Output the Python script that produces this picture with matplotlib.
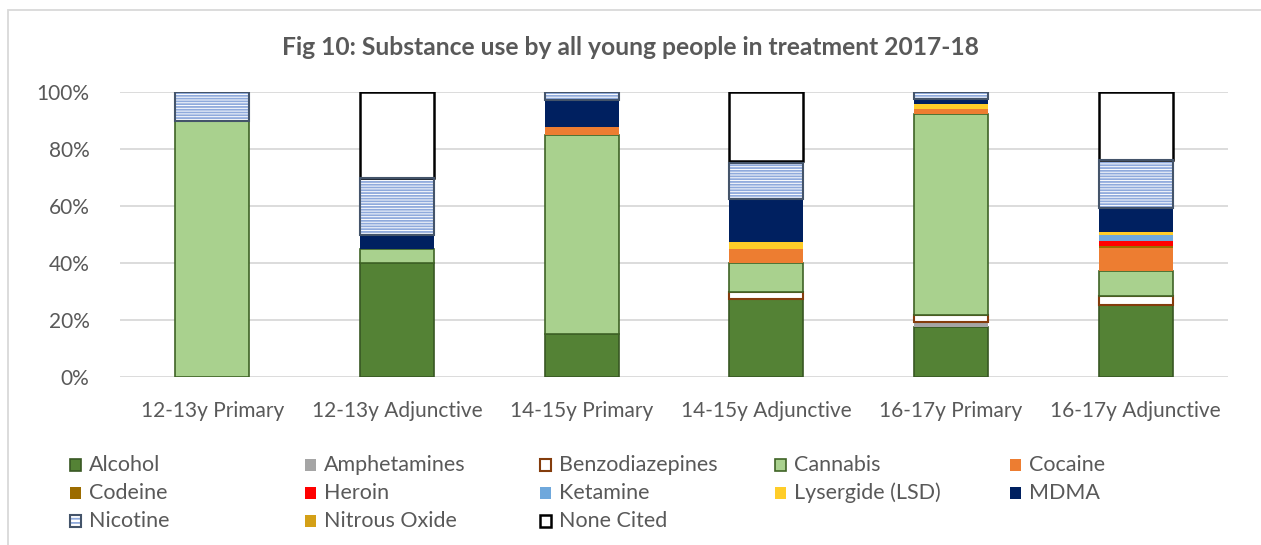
import matplotlib
matplotlib.use("Agg")
import matplotlib.pyplot as plt
from matplotlib.patches import Rectangle
import numpy as np

plt.rcParams['font.family'] = ['Lato', 'DejaVu Sans']
plt.rcParams['hatch.linewidth'] = 1.3

# ================== DATA ==================

groups = ["12-13y Primary", "12-13y Adjunctive", "14-15y Primary",
          "14-15y Adjunctive", "16-17y Primary", "16-17y Adjunctive"]

substances = ["Alcohol", "Amphetamines", "Benzodiazepines", "Cannabis", "Cocaine",
              "Codeine", "Heroin", "Ketamine", "Lysergide (LSD)", "MDMA",
              "Nicotine", "Nitrous Oxide", "None Cited"]

# percentages per group, one list per substance
alcohol = [0, 40, 15, 27.4, 17.7, 25.3]
amphetamines = [0, 0, 0, 0, 1.7, 0]
benzodiazepines = [0, 0, 0, 2.3, 2.2, 3.1]
cannabis = [90, 5, 70, 10.2, 70.6, 8.8]
cocaine = [0, 0, 2.6, 5, 1.7, 7.9]
codeine = [0, 0, 0, 0, 0, 1.0]
heroin = [0, 0, 0, 0, 0, 1.7]
ketamine = [0, 0, 0, 0, 0, 2.0]
lsd = [0, 0, 0, 2.3, 1.9, 1.1]
mdma = [0, 5, 9.7, 15.1, 1.7, 8.5]
nicotine = [10, 20, 2.7, 12.7, 2.5, 16.7]
nitrous_oxide = [0, 0, 0, 0.8, 0, 0]
none_cited = [0, 30, 0, 24.2, 0, 23.9]

series = [alcohol, amphetamines, benzodiazepines, cannabis, cocaine, codeine,
          heroin, ketamine, lsd, mdma, nicotine, nitrous_oxide, none_cited]

# fill, edge, linewidth, hatch
styles = {
    "Alcohol": ("#548235", "#385723", 1.2, None),
    "Amphetamines": ("#a5a5a5", "none", 0, None),
    "Benzodiazepines": ("white", "#843c0c", 1.5, None),
    "Cannabis": ("#a9d18e", "#3f6326", 1.2, None),
    "Cocaine": ("#ed7d31", "none", 0, None),
    "Codeine": ("#9c6c00", "none", 0, None),
    "Heroin": ("#ff0000", "none", 0, None),
    "Ketamine": ("#6fa8dc", "none", 0, None),
    "Lysergide (LSD)": ("#ffcd29", "none", 0, None),
    "MDMA": ("#002060", "none", 0, None),
    "Nicotine": ("white", "#44546a", 1.5, "------"),
    "Nitrous Oxide": ("#d4a017", "none", 0, None),
    "None Cited": ("white", "black", 1.8, None),
}

text_col = "#595959"

# ================== PLOT ==================

fig = plt.figure(figsize=(12.61, 5.45), dpi=100)
ax = fig.add_axes([120 / 1261, 1 - 377 / 545, 1108 / 1261, 285 / 545])

x = np.arange(len(groups))
bottom = np.zeros(len(groups))
width = 0.4

for name, vals in zip(substances, series):
    vals = np.array(vals, dtype=float)
    fc, ec, lw, hatch = styles[name]
    if hatch:
        # hatch lines in light blue, outline drawn separately
        ax.bar(x, vals, width, bottom=bottom, color=fc, edgecolor="#8faadc",
               linewidth=0, hatch=hatch, zorder=3)
        ax.bar(x, vals, width, bottom=bottom, fill=False, edgecolor=ec,
               linewidth=lw, zorder=4)
    else:
        mask = vals > 0
        ax.bar(x[mask], vals[mask], width, bottom=bottom[mask], color=fc,
               edgecolor=ec, linewidth=lw, zorder=3)
    bottom += vals

ax.set_xlim(-0.5, len(groups) - 0.5)
ax.set_ylim(0, 100)
ax.set_yticks(np.arange(0, 101, 20))
ax.set_yticklabels([f"{v}%" for v in range(0, 101, 20)])
ax.set_xticks(x)
ax.set_xticklabels(groups)
ax.tick_params(axis="both", length=0, labelsize=15, colors=text_col)
ax.tick_params(axis="x", pad=17)
ax.tick_params(axis="y", pad=22)
ax.grid(axis="y", color="#d9d9d9", linewidth=1.3, zorder=0)
for s in ax.spines.values():
    s.set_visible(False)

fig.text(0.5, 1 - 47 / 545, "Fig 10: Substance use by all young people in treatment 2017-18",
         ha="center", va="center", fontsize=17.7, fontweight="bold", color=text_col)

# legend laid out row by row, like the original
for i, name in enumerate(substances):
    row, col = divmod(i, 5)
    lx = 70 + col * 235
    ly = 465 + row * 28
    fc, ec, lw, hatch = styles[name]
    if name == "Nicotine":
        fig.add_artist(Rectangle((lx / 1261, 1 - (ly + 6) / 545), 11 / 1261, 12 / 545,
                                 transform=fig.transFigure, facecolor="white",
                                 edgecolor="#8faadc", hatch="----", linewidth=0))
        fig.add_artist(Rectangle((lx / 1261, 1 - (ly + 6) / 545), 11 / 1261, 12 / 545,
                                 transform=fig.transFigure, fill=False,
                                 edgecolor=ec, linewidth=lw))
    else:
        fig.add_artist(Rectangle((lx / 1261, 1 - (ly + 6) / 545), 11 / 1261, 12 / 545,
                                 transform=fig.transFigure, facecolor=fc,
                                 edgecolor=ec, linewidth=lw))
    fig.text((lx + 19) / 1261, 1 - ly / 545, name, ha="left", va="center",
             fontsize=15.5, color=text_col)

# outer chart frame
fig.add_artist(Rectangle((8 / 1261, -0.1), 1.1, 1 - 10 / 545 + 0.1,
                         transform=fig.transFigure, fill=False,
                         edgecolor="#d9d9d9", linewidth=1.3))

fig.savefig("out.png", dpi=100)
